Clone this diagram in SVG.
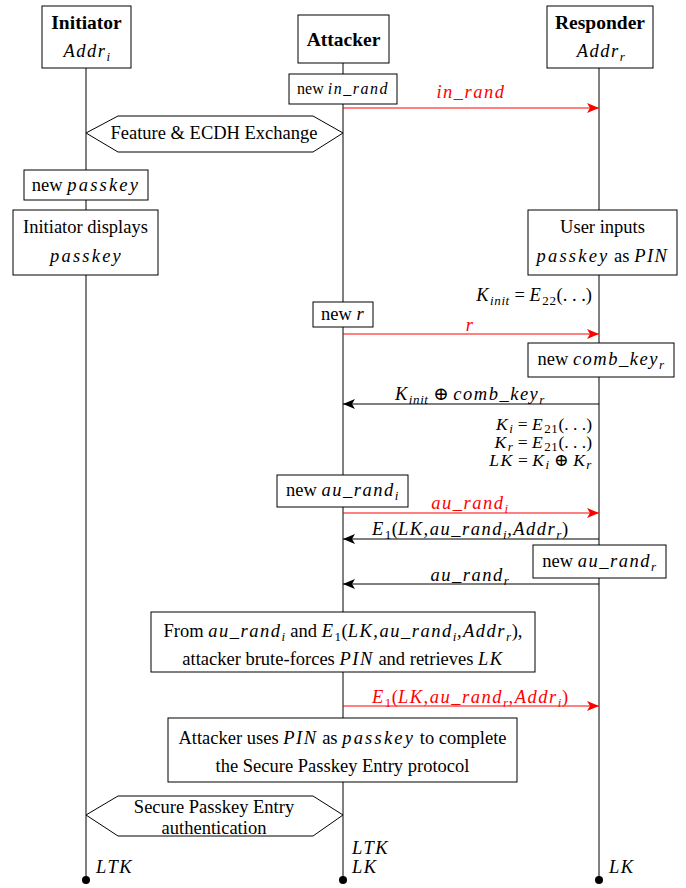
<svg xmlns="http://www.w3.org/2000/svg" width="686" height="888" viewBox="0 0 686 888">
<defs>
<style>
text{font-family:"Liberation Serif","DejaVu Serif",serif;font-size:18.5px;fill:#000}
.b{font-weight:bold;font-size:19.5px}
.i{font-style:italic;letter-spacing:1.5px}
.c{text-anchor:middle}
.e{text-anchor:end}
.red{fill:#ff0000}
.box{fill:#fff;stroke:#000;stroke-width:1}
.life{stroke:#000;stroke-width:1;fill:none}
.msg{stroke:#000;stroke-width:1;fill:none}
.msgr{stroke:#ff0000;stroke-width:1;fill:none}
.s{font-size:13px;letter-spacing:0.6px}
.k{font-size:17.5px}
.pk{letter-spacing:2.2px}
</style>
<marker id="ah" viewBox="0 0 12 10" refX="12" refY="5" markerWidth="12" markerHeight="10" markerUnits="userSpaceOnUse" orient="auto">
<path d="M0,0 L12,5 L0,10 L3,5 z" fill="#000"/>
</marker>
<marker id="ahr" viewBox="0 0 12 10" refX="12" refY="5" markerWidth="12" markerHeight="10" markerUnits="userSpaceOnUse" orient="auto">
<path d="M0,0 L12,5 L0,10 L3,5 z" fill="#ff0000"/>
</marker>
</defs>
<rect width="686" height="888" fill="#fff"/>
<g id="lifelines">
<line class="life" x1="86" y1="68" x2="86" y2="880"/>
<line class="life" x1="343" y1="63" x2="343" y2="880"/>
<line class="life" x1="599" y1="68" x2="599" y2="880"/>
<circle cx="86" cy="880" r="4"/>
<circle cx="343" cy="880" r="4"/>
<circle cx="599" cy="880" r="4"/>
</g>
<g id="initiator">
<rect class="box" x="42" y="6" width="89" height="62"/>
<text class="b c" x="86.5" y="29">Initiator</text>
<text class="i c" x="87" y="57">Addr<tspan class="s" dy="4">i</tspan></text>
</g>
<g id="attacker">
<rect class="box" x="298" y="15" width="91" height="48"/>
<text class="b c" x="343.5" y="46">Attacker</text>
</g>
<g id="responder">
<rect class="box" x="547" y="6" width="106" height="62"/>
<text class="b c" x="600" y="29">Responder</text>
<text class="i c" x="601" y="57">Addr<tspan class="s" dy="4">r</tspan></text>
</g>
<g id="connectors">
<line class="msgr" x1="343" y1="108" x2="599" y2="108" marker-end="url(#ahr)"/>
<line class="msgr" x1="343" y1="334" x2="599" y2="334" marker-end="url(#ahr)"/>
<line class="msg" x1="599" y1="404" x2="343" y2="404" marker-end="url(#ah)"/>
<line class="msgr" x1="343" y1="513" x2="599" y2="513" marker-end="url(#ahr)"/>
<line class="msg" x1="599" y1="539" x2="343" y2="539" marker-end="url(#ah)"/>
<line class="msg" x1="599" y1="584" x2="343" y2="584" marker-end="url(#ah)"/>
<line class="msgr" x1="343" y1="706" x2="599" y2="706" marker-end="url(#ahr)"/>
</g>
<g id="labels">
<text class="i c red" x="471" y="98">in_rand</text>
<text class="i c red" x="470" y="331">r</text>
<text class="c" x="470" y="400"><tspan class="i">K</tspan><tspan class="i s" dy="4">init</tspan><tspan dy="-4"> ⊕ </tspan><tspan class="i">comb_key</tspan><tspan class="i s" dy="4">r</tspan></text>
<text class="c red" x="470" y="509"><tspan class="i">au_rand</tspan><tspan class="i s" dy="4">i</tspan></text>
<text class="c" x="470" y="535"><tspan class="i">E</tspan><tspan class="s" dy="4">1</tspan><tspan dy="-4">(</tspan><tspan class="i">LK,au_rand</tspan><tspan class="i s" dy="4">i</tspan><tspan class="i" dy="-4">,Addr</tspan><tspan class="i s" dy="4">r</tspan><tspan dy="-4">)</tspan></text>
<text class="c" x="470" y="581"><tspan class="i">au_rand</tspan><tspan class="i s" dy="4">r</tspan></text>
<text class="c red" x="470" y="703"><tspan class="i">E</tspan><tspan class="s" dy="4">1</tspan><tspan dy="-4">(</tspan><tspan class="i">LK,au_rand</tspan><tspan class="i s" dy="4">r</tspan><tspan class="i" dy="-4">,Addr</tspan><tspan class="i s" dy="4">i</tspan><tspan dy="-4">)</tspan></text>
<text class="e" x="592" y="301"><tspan class="i">K</tspan><tspan class="i s" dy="4">init</tspan><tspan dy="-4"> = </tspan><tspan class="i">E</tspan><tspan class="s" dy="4">22</tspan><tspan dy="-4">(. . .)</tspan></text>
<text class="e k" x="592" y="430"><tspan class="i">K</tspan><tspan class="i s" dy="3">i</tspan><tspan dy="-3"> = </tspan><tspan class="i">E</tspan><tspan class="s" dy="3">21</tspan><tspan dy="-3">(. . .)</tspan><tspan x="592" dy="18" class="i">K</tspan><tspan class="i s" dy="3">r</tspan><tspan dy="-3"> = </tspan><tspan class="i">E</tspan><tspan class="s" dy="3">21</tspan><tspan dy="-3">(. . .)</tspan><tspan x="592" dy="18" class="i">LK</tspan><tspan> = </tspan><tspan class="i">K</tspan><tspan class="i s" dy="3">i</tspan><tspan dy="-3"> ⊕ </tspan><tspan class="i">K</tspan><tspan class="i s" dy="3">r</tspan></text>
<text class="i" x="96" y="873">LTK</text>
<text class="i" x="352" y="854">LTK</text>
<text class="i" x="352" y="873">LK</text>
<text class="i" x="609" y="873">LK</text>
</g>
<g id="new-in-rand">
<rect class="box" x="289" y="74" width="108" height="30"/>
<text class="c" x="343" y="94" style="font-size:16px">new <tspan class="i">in_rand</tspan></text>
</g>
<g id="feature-exchange">
<polygon class="box" points="86,133 118,116 313,116 343,133 313,152 118,152"/>
<text class="c" x="214" y="139">Feature &amp; ECDH Exchange</text>
</g>
<g id="new-passkey">
<rect class="box" x="24" y="170" width="124" height="30"/>
<text class="c" x="86" y="191">new <tspan class="i pk">passkey</tspan></text>
</g>
<g id="initiator-displays">
<rect class="box" x="13" y="210" width="145" height="65"/>
<text class="c" x="85.5" y="233">Initiator displays</text>
<text class="c i pk" x="86.5" y="262">passkey</text>
</g>
<g id="user-inputs">
<rect class="box" x="528" y="210" width="149" height="65"/>
<text class="c" x="602.5" y="233">User inputs</text>
<text class="c" x="602.5" y="262"><tspan class="i pk">passkey</tspan> as <tspan class="i">PIN</tspan></text>
</g>
<g id="new-r">
<rect class="box" x="313" y="302" width="60" height="25"/>
<text class="c" x="343" y="320">new <tspan class="i">r</tspan></text>
</g>
<g id="new-comb-key">
<rect class="box" x="528" y="343" width="146" height="34"/>
<text class="c" x="601" y="365">new <tspan class="i">comb_key</tspan><tspan class="i s" dy="4">r</tspan></text>
</g>
<g id="new-au-rand-i">
<rect class="box" x="277" y="475" width="131" height="32"/>
<text class="c" x="342.5" y="496">new <tspan class="i">au_rand</tspan><tspan class="i s" dy="4">i</tspan></text>
</g>
<g id="new-au-rand-r">
<rect class="box" x="533" y="545" width="133" height="33"/>
<text class="c" x="599.5" y="567">new <tspan class="i">au_rand</tspan><tspan class="i s" dy="4">r</tspan></text>
</g>
<g id="brute-force">
<rect class="box" x="151" y="612" width="384" height="60"/>
<text class="c" x="343" y="637">From <tspan class="i">au_rand</tspan><tspan class="i s" dy="4">i</tspan><tspan dy="-4"> and </tspan><tspan class="i">E</tspan><tspan class="s" dy="4">1</tspan><tspan dy="-4">(</tspan><tspan class="i">LK,au_rand</tspan><tspan class="i s" dy="4">i</tspan><tspan class="i" dy="-4">,Addr</tspan><tspan class="i s" dy="4">r</tspan><tspan dy="-4">),</tspan></text>
<text class="c" x="343" y="665">attacker brute-forces <tspan class="i">PIN</tspan> and retrieves <tspan class="i">LK</tspan></text>
</g>
<g id="attacker-uses">
<rect class="box" x="168" y="718" width="349" height="64"/>
<text class="c" x="342.5" y="744">Attacker uses <tspan class="i">PIN</tspan> as <tspan class="i pk">passkey</tspan> to complete</text>
<text class="c" x="342.5" y="772">the Secure Passkey Entry protocol</text>
</g>
<g id="spe-auth">
<polygon class="box" points="86,815 118,796 313,796 343,815 313,836 118,836"/>
<text class="c" x="214" y="813">Secure Passkey Entry</text>
<text class="c" x="214" y="834">authentication</text>
</g>
</svg>
